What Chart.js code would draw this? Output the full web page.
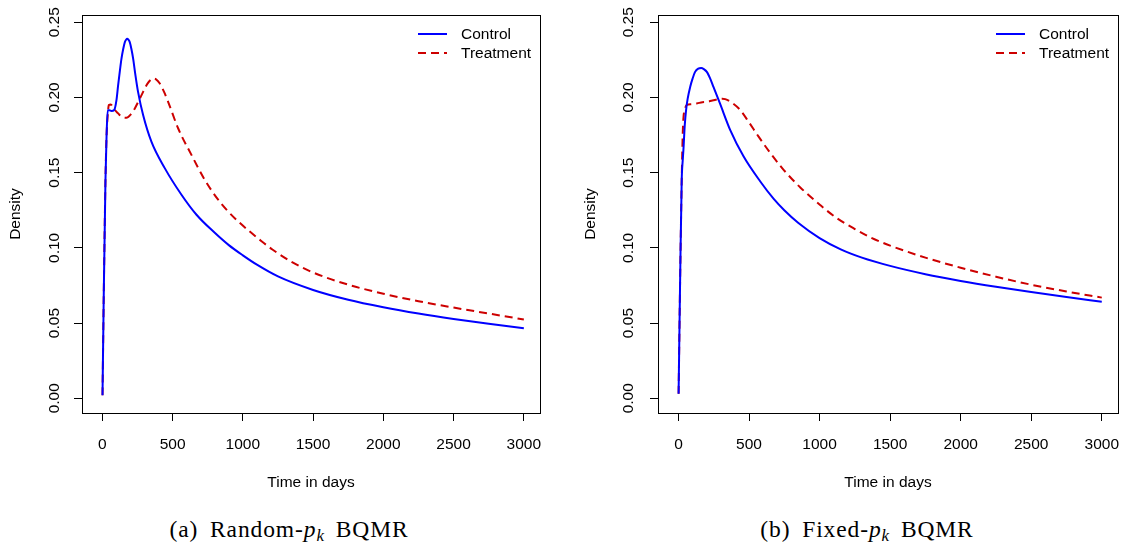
<!DOCTYPE html>
<html>
<head>
<meta charset="utf-8">
<title>Density of time in days</title>
<script src="https://cdn.jsdelivr.net/npm/chart.js@4.4.0/dist/chart.umd.min.js"></script>
<style>
  html, body { margin: 0; padding: 0; background: #fff; }
  body { width: 1121px; height: 554px; position: relative; overflow: hidden; }
  canvas { position: absolute; top: 0; }
  #chart-a { left: 0; }
  #chart-b { left: 560px; }
  .caption {
    position: absolute;
    top: 518px;
    font-family: 'Liberation Serif', 'Times New Roman', serif;
    font-size: 23.5px;
    line-height: 23px;
    letter-spacing: 0.9px;
    word-spacing: 5px;
    white-space: nowrap;
    transform: translateX(-50%);
    color: #000;
  }
  .caption sub { font-size: 0.72em; vertical-align: -0.22em; line-height: 0; letter-spacing: 0; }
</style>
</head>
<body>
<canvas id="chart-a" width="560" height="500"></canvas>
<canvas id="chart-b" width="561" height="500"></canvas>
<div class="caption" style="left:289px">(a) Random-<i>p</i><sub><i>k</i></sub> BQMR</div>
<div class="caption" style="left:867px">(b) Fixed-<i>p</i><sub><i>k</i></sub> BQMR</div>

<script>
'use strict';

// Random-p_k model: density curves per arm
const randomControlDays = [1, 10, 22, 30, 38, 50, 65, 84, 100, 112, 125, 136, 148, 160, 170, 176, 185, 195, 207, 219, 235, 254, 290, 349, 444, 563, 670, 800, 900, 1000, 1100, 1250, 1500, 1750, 2000, 2250, 2500, 2750, 3000];
const randomControlDensity = [0.002, 0.07, 0.145, 0.175, 0.1915, 0.1915, 0.191, 0.1916, 0.198, 0.208, 0.218, 0.2258, 0.232, 0.2368, 0.2385, 0.239, 0.2385, 0.2368, 0.232, 0.2258, 0.215, 0.2037, 0.1883, 0.1706, 0.153, 0.1353, 0.122, 0.110, 0.1018, 0.095, 0.0888, 0.081, 0.072, 0.0655, 0.0605, 0.0563, 0.0527, 0.0495, 0.0466];

const randomTreatmentDays = [1, 10, 22, 30, 38, 46, 60, 80, 112, 140, 171, 200, 231, 260, 290, 320, 345, 361, 380, 409, 440, 468, 539, 634, 729, 824, 895, 966, 1133, 1210, 1350, 1500, 1750, 2000, 2250, 2500, 2750, 3000];
const randomTreatmentDensity = [0.002, 0.07, 0.145, 0.175, 0.188, 0.1949, 0.1953, 0.1925, 0.1894, 0.187, 0.1865, 0.1885, 0.1927, 0.198, 0.2037, 0.209, 0.2118, 0.2126, 0.2122, 0.2093, 0.2035, 0.1971, 0.1795, 0.1618, 0.1452, 0.132, 0.1242, 0.1176, 0.1044, 0.0989, 0.0905, 0.0836, 0.0755, 0.0695, 0.0645, 0.0603, 0.0563, 0.0524];

// Fixed-p_k model: density curves per arm
const fixedControlDays = [1, 12, 23, 30, 35, 45, 54, 65, 83, 100, 118, 140, 161, 180, 201, 225, 248, 294, 367, 462, 580, 675, 750, 850, 1000, 1150, 1300, 1500, 1750, 2000, 2250, 2500, 2750, 3000];
const fixedControlDensity = [0.003, 0.08, 0.145, 0.158, 0.165, 0.182, 0.1916, 0.199, 0.207, 0.2125, 0.217, 0.2192, 0.2196, 0.2188, 0.217, 0.2125, 0.207, 0.196, 0.1783, 0.1607, 0.1441, 0.1325, 0.125, 0.1165, 0.1065, 0.099, 0.0935, 0.088, 0.0825, 0.078, 0.0741, 0.0706, 0.0673, 0.0642];

const fixedTreatmentDays = [1, 12, 23, 30, 35, 45, 59, 90, 130, 170, 201, 240, 284, 310, 331, 379, 438, 497, 568, 652, 735, 804, 865, 1004, 1111, 1250, 1364, 1500, 1750, 2000, 2250, 2500, 2750, 3000];
const fixedTreatmentDensity = [0.003, 0.08, 0.145, 0.175, 0.186, 0.192, 0.195, 0.1955, 0.196, 0.1968, 0.197, 0.198, 0.1989, 0.1992, 0.1989, 0.1965, 0.1916, 0.1838, 0.1739, 0.1629, 0.153, 0.1458, 0.140, 0.1285, 0.1205, 0.1125, 0.1068, 0.1015, 0.0935, 0.0868, 0.0808, 0.0755, 0.071, 0.0669];

// Axis ticks and series styling
const xTickValues = [0, 500, 1000, 1500, 2000, 2500, 3000];
const yTickValues = [0, 0.05, 0.10, 0.15, 0.20, 0.25];
const seriesLabels = ['Control', 'Treatment'];
const seriesColors = ['#0000ff', '#cd0000'];
const seriesDashes = [[], [8, 5]];

const fontFamily = '"Liberation Sans", Arial, Helvetica, sans-serif';
const fontSize = 15.5;

Chart.defaults.font.family = fontFamily;
Chart.defaults.font.size = fontSize;
Chart.defaults.color = '#000';

function toPoints(days, density){
  return days.map((d, i) => ({x: d, y: density[i]}));
}

// closed frame around the plotting region
const plotBox = {
  id: 'plotBox',
  afterDatasetsDraw(chart){
    const {ctx, chartArea} = chart;
    ctx.save();
    ctx.strokeStyle = '#000';
    ctx.lineWidth = 1;
    ctx.strokeRect(Math.round(chartArea.left) + 0.5, Math.round(chartArea.top) + 0.5,
      Math.round(chartArea.right - chartArea.left), Math.round(chartArea.bottom - chartArea.top));
    ctx.restore();
  }
};

// legend in the top right corner, line sample then label
const cornerLegend = {
  id: 'cornerLegend',
  afterDraw(chart){
    const {ctx, chartArea} = chart;
    ctx.save();
    ctx.font = fontSize + 'px ' + fontFamily;
    ctx.textBaseline = 'middle';
    ctx.textAlign = 'left';
    chart.data.datasets.forEach((ds, i) => {
      const y = chartArea.top + 19 + i * 19;
      ctx.strokeStyle = ds.borderColor;
      ctx.lineWidth = ds.borderWidth;
      ctx.setLineDash(ds.borderDash);
      ctx.beginPath();
      ctx.moveTo(chartArea.right - 122, y);
      ctx.lineTo(chartArea.right - 93, y);
      ctx.stroke();
      ctx.setLineDash([]);
      ctx.fillStyle = '#000';
      ctx.fillText(ds.label, chartArea.right - 79, y + 1);
    });
    ctx.restore();
  }
};

function makeChart(canvasId, controlPoints, treatmentPoints, frame){
  const series = [controlPoints, treatmentPoints];
  const datasets = series.map((pts, i) => ({
    label: seriesLabels[i],
    data: pts,
    borderColor: seriesColors[i],
    borderWidth: 2,
    borderDash: seriesDashes[i],
    pointRadius: 0,
    fill: false,
    cubicInterpolationMode: 'monotone'
  }));

  return new Chart(document.getElementById(canvasId), {
    type: 'line',
    data: {datasets: datasets},
    plugins: [plotBox, cornerLegend],
    options: {
      responsive: false,
      devicePixelRatio: 1,
      animation: false,
      layout: {padding: {top: 15, right: frame.padRight, left: 0, bottom: 0}},
      plugins: {
        legend: {display: false},
        tooltip: {enabled: false}
      },
      scales: {
        x: {
          type: 'linear',
          min: -145,
          max: 3115,
          afterBuildTicks: scale => { scale.ticks = xTickValues.map(v => ({value: v})); },
          afterFit: scale => {
            scale.height = 87;
            // the last tick label may spill into the right margin
            scale.paddingLeft = 0;
            scale.paddingRight = 0;
          },
          border: {display: false},
          grid: {drawOnChartArea: false, drawTicks: true, tickLength: 8, color: '#000', lineWidth: 1},
          ticks: {padding: 14, maxRotation: 0, autoSkip: false, callback: v => String(v)},
          title: {display: true, text: 'Time in days', padding: {top: 0, bottom: 8}}
        },
        y: {
          type: 'linear',
          min: -0.0098,
          max: 0.2548,
          afterBuildTicks: scale => { scale.ticks = yTickValues.map(v => ({value: v})); },
          afterFit: scale => {
            scale.width = frame.axisWidth;
            scale.paddingTop = 0;
            scale.paddingBottom = 0;
          },
          border: {display: false},
          grid: {drawOnChartArea: false, drawTicks: true, tickLength: 8, color: '#000', lineWidth: 1},
          ticks: {padding: frame.labelPad, minRotation: 90, maxRotation: 90, crossAlign: 'center', callback: v => v.toFixed(2)},
          title: {display: true, text: 'Density', padding: {top: frame.titlePad, bottom: 0}}
        }
      }
    }
  });
}

makeChart('chart-a', toPoints(randomControlDays, randomControlDensity),
  toPoints(randomTreatmentDays, randomTreatmentDensity),
  {axisWidth: 82, padRight: 20, labelPad: 4, titlePad: 6});

makeChart('chart-b', toPoints(fixedControlDays, fixedControlDensity),
  toPoints(fixedTreatmentDays, fixedTreatmentDensity),
  {axisWidth: 98, padRight: 3, labelPad: 6, titlePad: 21});
</script>
</body>
</html>
